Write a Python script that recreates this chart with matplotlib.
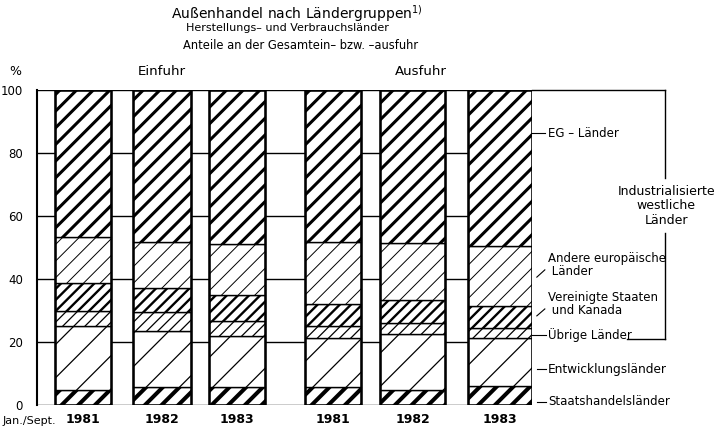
import matplotlib.pyplot as plt

plt.rcParams['font.family'] = ['Liberation Sans Narrow', 'DejaVu Sans']

# Anteile in % (von unten nach oben gestapelt)
years = ['1981', '1982', '1983', '1981', '1982', '1983']
staatshandel = [4.8, 5.8, 5.6, 5.7, 4.7, 6.0]
entwicklung = [20.4, 17.7, 16.4, 15.6, 17.7, 15.3]
uebrige = [4.7, 5.9, 4.8, 3.7, 3.6, 3.2]
usa_kanada = [8.7, 7.6, 8.1, 7.2, 7.3, 7.0]
andere_europa = [14.6, 14.6, 16.1, 19.5, 18.1, 18.9]
eg = [46.8, 48.4, 49.0, 48.3, 48.6, 49.6]

segments = [
    (staatshandel, '//', 2.9),
    (entwicklung, '/', 0.9),
    (uebrige, '///', 0.9),
    (usa_kanada, '///', 1.7),
    (andere_europa, '//', 0.7),
    (eg, '//', 2.2),
]

# layout
xpos = [0.575, 1.5625, 2.5, 3.7, 4.7, 5.79]
widths = [0.7, 0.725, 0.7, 0.7, 0.81, 0.81]

fig = plt.figure(figsize=(7.18, 4.38), dpi=100)
ax = fig.add_axes([0.0515, 0.0753, 0.6895, 0.7192])

bottom = [0.0] * len(years)
for values, hatch, hlw in segments:
    bars = ax.bar(xpos, values, width=widths, bottom=bottom, color='white',
                  edgecolor='black', hatch=hatch, linewidth=1.0, zorder=3)
    for b in bars:
        if hasattr(b, 'set_hatch_linewidth'):
            b.set_hatch_linewidth(hlw)
    bottom = [b0 + v for b0, v in zip(bottom, values)]

# outer outline of each bar
ax.bar(xpos, bottom, width=widths, fill=False, edgecolor='black', linewidth=1.8, zorder=4)

ax.set_xlim(0, 6.19)
ax.set_ylim(0, 100)
ax.set_yticks([0, 20, 40, 60, 80, 100])
ax.set_xticks(xpos)
ax.set_xticklabels(years, fontsize=9, fontweight='bold')
ax.tick_params(axis='both', length=0)
ax.tick_params(axis='y', pad=10, labelsize=8.5)
ax.tick_params(axis='x', pad=6)
ax.yaxis.grid(True, color='black', linewidth=1.0, zorder=0)
for s in ['top', 'right', 'bottom']:
    ax.spines[s].set_visible(False)
ax.spines['left'].set_linewidth(1.5)

ax.text(-0.43, -5.0, 'Jan./Sept.', fontsize=8, ha='left', va='center', clip_on=False)

# titles
fig.text(0.414, 0.970, 'Außenhandel nach Ländergruppen$^{1)}$', fontsize=10, ha='center', va='center')
fig.text(0.401, 0.935, 'Herstellungs– und Verbrauchsländer', fontsize=8, ha='center', va='center')
fig.text(0.418, 0.895, 'Anteile an der Gesamtein– bzw. –ausfuhr', fontsize=8.3, ha='center', va='center')
ax.text(1.5625, 106, 'Einfuhr', fontsize=9.6, ha='center', va='center', clip_on=False)
ax.text(4.8, 106, 'Ausfuhr', fontsize=9.6, ha='center', va='center', clip_on=False)
ax.text(-0.27, 106, '%', fontsize=9, ha='center', va='center', clip_on=False)

# legend labels with leader lines
lab_x = 6.39
ax.plot([6.19, 7.85], [100, 100], color='black', lw=1.0, clip_on=False)
ax.plot([7.85, 7.85], [100, 72], color='black', lw=1.0, clip_on=False)
ax.plot([7.85, 7.85], [54.6, 21.0], color='black', lw=1.0, clip_on=False)
ax.plot([7.375, 7.85], [21.0, 21.0], color='black', lw=1.0, clip_on=False)
ax.text(7.87, 63.2, 'Industrialisierte\nwestliche\nLänder', fontsize=9, ha='center', va='center',
        linespacing=1.15, clip_on=False)

ax.plot([6.19, 6.35], [86.3, 86.3], color='black', lw=0.8, clip_on=False)
ax.text(lab_x, 86.3, 'EG – Länder', fontsize=8.5, ha='left', va='center', clip_on=False)

ax.plot([6.25, 6.35], [40.6, 42.9], color='black', lw=0.8, clip_on=False)
ax.text(lab_x, 44.4, 'Andere europäische\n Länder', fontsize=8.5, ha='left', va='center',
        linespacing=1.05, clip_on=False)

ax.plot([6.25, 6.35], [28.3, 30.5], color='black', lw=0.8, clip_on=False)
ax.text(lab_x, 32.1, 'Vereinigte Staaten\n und Kanada', fontsize=8.5, ha='left', va='center',
        linespacing=1.05, clip_on=False)

ax.plot([6.19, 6.37], [22.2, 22.2], color='black', lw=0.8, clip_on=False)
ax.text(lab_x, 22.2, 'Übrige Länder', fontsize=8.5, ha='left', va='center', clip_on=False)

ax.plot([6.25, 6.37], [11.4, 11.4], color='black', lw=0.8, clip_on=False)
ax.text(lab_x, 11.4, 'Entwicklungsländer', fontsize=8.7, ha='left', va='center', clip_on=False)

ax.plot([6.25, 6.37], [1.0, 1.0], color='black', lw=0.8, clip_on=False)
ax.text(lab_x, 1.0, 'Staatshandelsländer', fontsize=8.5, ha='left', va='center', clip_on=False)

fig.savefig('out.png', dpi=100)
